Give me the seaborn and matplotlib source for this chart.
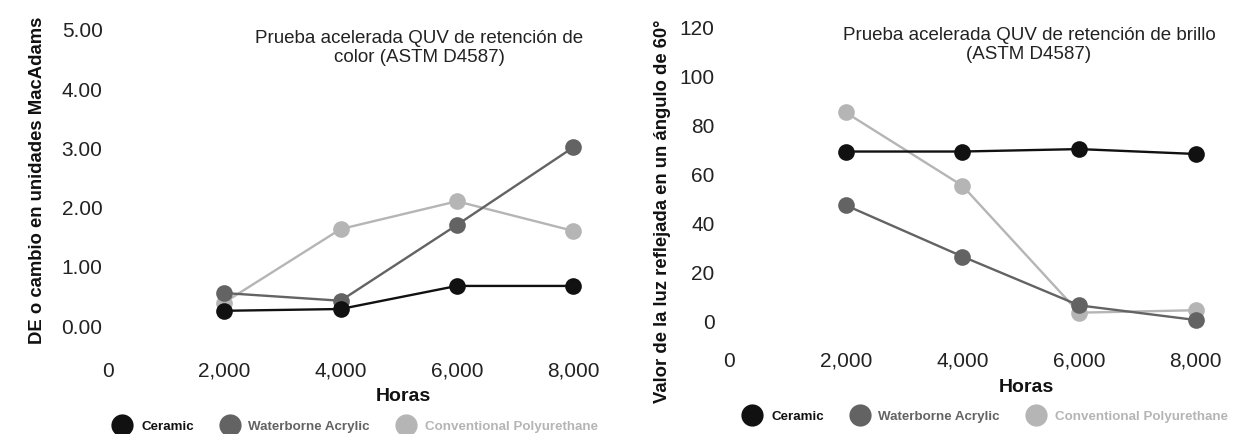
import numpy as np
import pandas as pd
import matplotlib
matplotlib.use("Agg")
import matplotlib.pyplot as plt
import seaborn as sns
from matplotlib.lines import Line2D

# ---- data ----
horas = [2000, 4000, 6000, 8000]
series = ["Ceramic", "Waterborne Acrylic", "Conventional Polyurethane"]
color_ceramic = [0.24, 0.27, 0.66, 0.66]
color_waterborne = [0.54, 0.41, 1.69, 3.00]
color_conventional = [0.38, 1.62, 2.09, 1.59]
gloss_ceramic = [69, 69, 70, 68]
gloss_waterborne = [47, 26, 6, 0]
gloss_conventional = [85, 55, 3, 4]
x_ticks = [0, 2000, 4000, 6000, 8000]
x_tick_labels = ["0", "2,000", "4,000", "6,000", "8,000"]
left_yticks = [0, 1, 2, 3, 4, 5]
left_ytick_labels = ["0.00", "1.00", "2.00", "3.00", "4.00", "5.00"]
right_yticks = [0, 20, 40, 60, 80, 100, 120]
right_ytick_labels = ["0", "20", "40", "60", "80", "100", "120"]
left_title = "Prueba acelerada QUV de retención de\ncolor (ASTM D4587)"
right_title = "Prueba acelerada QUV de retención de brillo\n(ASTM D4587)"
left_ylabel = "DE o cambio en unidades MacAdams"
right_ylabel = "Valor de la luz reflejada en un ángulo de 60°"
xlabel = "Horas"

palette = {"Ceramic": "#111111",
           "Waterborne Acrylic": "#636363",
           "Conventional Polyurethane": "#b5b5b5"}
draw_order = ["Conventional Polyurethane", "Waterborne Acrylic", "Ceramic"]

def make_df(c, w, p):
    rows = []
    for name, vals in zip(series, [c, w, p]):
        for h, v in zip(horas, vals):
            rows.append({"Horas": h, "Valor": v, "Serie": name})
    return pd.DataFrame(rows)

df_color = make_df(color_ceramic, color_waterborne, color_conventional)
df_gloss = make_df(gloss_ceramic, gloss_waterborne, gloss_conventional)

sns.set_theme(style="white")
plt.rcParams["font.family"] = ["Liberation Sans", "DejaVu Sans"]

W, H = 1249, 435
fig = plt.figure(figsize=(W / 100, H / 100), dpi=100)

def px_axes(l, t, r, b):
    return fig.add_axes([l / W, 1 - b / H, (r - l) / W, (b - t) / H])

def style(ax, yticks, ylabels, xpad):
    ax.set_xticks(x_ticks)
    ax.set_xticklabels(x_tick_labels)
    ax.set_yticks(yticks)
    ax.set_yticklabels(ylabels)
    ax.tick_params(axis="both", length=0, labelsize=15, labelcolor="#222222")
    ax.tick_params(axis="x", pad=xpad)
    ax.tick_params(axis="y", pad=1)
    for s in ax.spines.values():
        s.set_visible(False)
    ax.set_xlabel("")
    ax.set_ylabel("")
    ax.grid(False)
    leg = ax.get_legend()
    if leg is not None:
        leg.remove()

# left axes: x=0 at px 108, 116.3 px per 2000; y=0 at px 326, 59.2 px/unit
axL = px_axes(104, 15, 600, 345)
sns.lineplot(data=df_color, x="Horas", y="Valor", hue="Serie", hue_order=draw_order,
             palette=palette, marker="o", markersize=12, markeredgewidth=0,
             linewidth=1.7, ax=axL)
axL.set_xlim((104 - 108) / 0.05815, (600 - 108) / 0.05815)
axL.set_ylim(-(345 - 326) / 59.2, 5 + (30 - 15) / 59.2)
style(axL, left_yticks, left_ytick_labels, 12)

# right axes: x=0 at px 729, 116.7 px per 2000; y=0 at px 321, 2.442 px/unit
axR = px_axes(716, 15, 1235, 345)
sns.lineplot(data=df_gloss, x="Horas", y="Valor", hue="Serie", hue_order=draw_order,
             palette=palette, marker="o", markersize=12, markeredgewidth=0,
             linewidth=1.7, ax=axR)
axR.set_xlim((716 - 729) / 0.05835, (1235 - 729) / 0.05835)
axR.set_ylim(-(345 - 321) / 2.442, 120 + (28 - 15) / 2.442)
style(axR, right_yticks, right_ytick_labels, 5)

# titles
fig.text(419 / W, 1 - 48 / H, left_title, ha="center", va="center",
         fontsize=13.5, color="#222222", linespacing=1.15)
fig.text(1029 / W, 1 - 45 / H, right_title, ha="center", va="center",
         fontsize=13.5, color="#222222", linespacing=1.15)

# y labels
fig.text(38 / W, 1 - 180 / H, left_ylabel, rotation=90, ha="center", va="center",
         fontsize=13.3, fontweight="bold", color="#111111")
fig.text(662 / W, 1 - 211 / H, right_ylabel, rotation=90, ha="center", va="center",
         fontsize=13.3, fontweight="bold", color="#111111")

# x labels
fig.text(403 / W, 1 - 397 / H, xlabel, ha="center", va="center",
         fontsize=14, fontweight="bold", color="#111111")
fig.text(1026 / W, 1 - 388 / H, xlabel, ha="center", va="center",
         fontsize=14, fontweight="bold", color="#111111")

# legends
def add_legend(cx, cy):
    handles = [Line2D([], [], marker="o", linestyle="none", markersize=16,
                      markeredgewidth=0, color=palette[s]) for s in series]
    leg = fig.legend(handles, series, loc="center",
                     bbox_to_anchor=(cx / W, 1 - cy / H), ncol=3, frameon=False,
                     handletextpad=0.8, columnspacing=2.1, handlelength=1.2,
                     prop={"weight": "bold", "size": 9.6})
    for t, s in zip(leg.get_texts(), series):
        t.set_color(palette[s])

add_legend(356, 427)
add_legend(986, 417)

fig.savefig("out.png", dpi=100)
